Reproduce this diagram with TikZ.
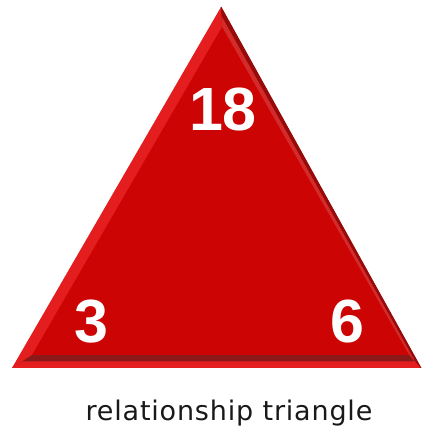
\documentclass[tikz,border=0pt]{standalone}
\usepackage{fontspec}
\setmainfont{DejaVu Sans}
\newfontfamily\numfont{Liberation Sans}
\newfontfamily\capfont[LetterSpace=3]{DejaVu Sans}
\usetikzlibrary{calc}
\definecolor{mainred}{RGB}{204,4,4}
\definecolor{lightred}{RGB}{228,30,30}
\definecolor{darkred}{RGB}{150,10,10}
\definecolor{bandred}{RGB}{140,25,25}
\begin{document}
\begin{tikzpicture}[x=1pt,y=1pt,
  num/.style={text=white,font=\numfont\fontsize{61}{61}\selectfont\bfseries,inner sep=0pt},
  captext/.style={text=black!90,font=\capfont\fontsize{27}{29}\selectfont,inner sep=0pt}]
\useasboundingbox (0,0) rectangle (421,429);
% outer triangle
\coordinate (A) at (221,422);
\coordinate (B) at (12,61);
\coordinate (C) at (421,61);
\coordinate (a) at (222,402);
\coordinate (b) at (32,74);
\coordinate (c) at (409,74);
\fill[lightred] (A) -- (B) -- (C) -- cycle;
% right bevel darker
\fill[darkred] (A) -- (a) -- (c) -- (C) -- cycle;
\fill[mainred!85!white] ($(A)!0.45!(a)$) -- (a) -- (c) -- ($(C)!0.45!(c)$) -- cycle;
% bottom bevel
\fill[bandred] (B) -- (b) -- (c) -- (C) -- cycle;
\fill[lightred] (B) -- (C) -- ($(C)!0.5!(c)$) -- ($(B)!0.5!(b)$) -- cycle;
\draw[darkred,line width=0.8] (A) -- (C);
\fill[mainred] (a) -- (b) -- (c) -- cycle;
\node[num] (n18) at (223,319) {18};
\node[num] (n3) at (91,107) {3};
\node[num] (n6) at (347,107) {6};
\node[captext,anchor=base] (t) at (229,9) {relationship triangle};
\end{tikzpicture}
\end{document}
